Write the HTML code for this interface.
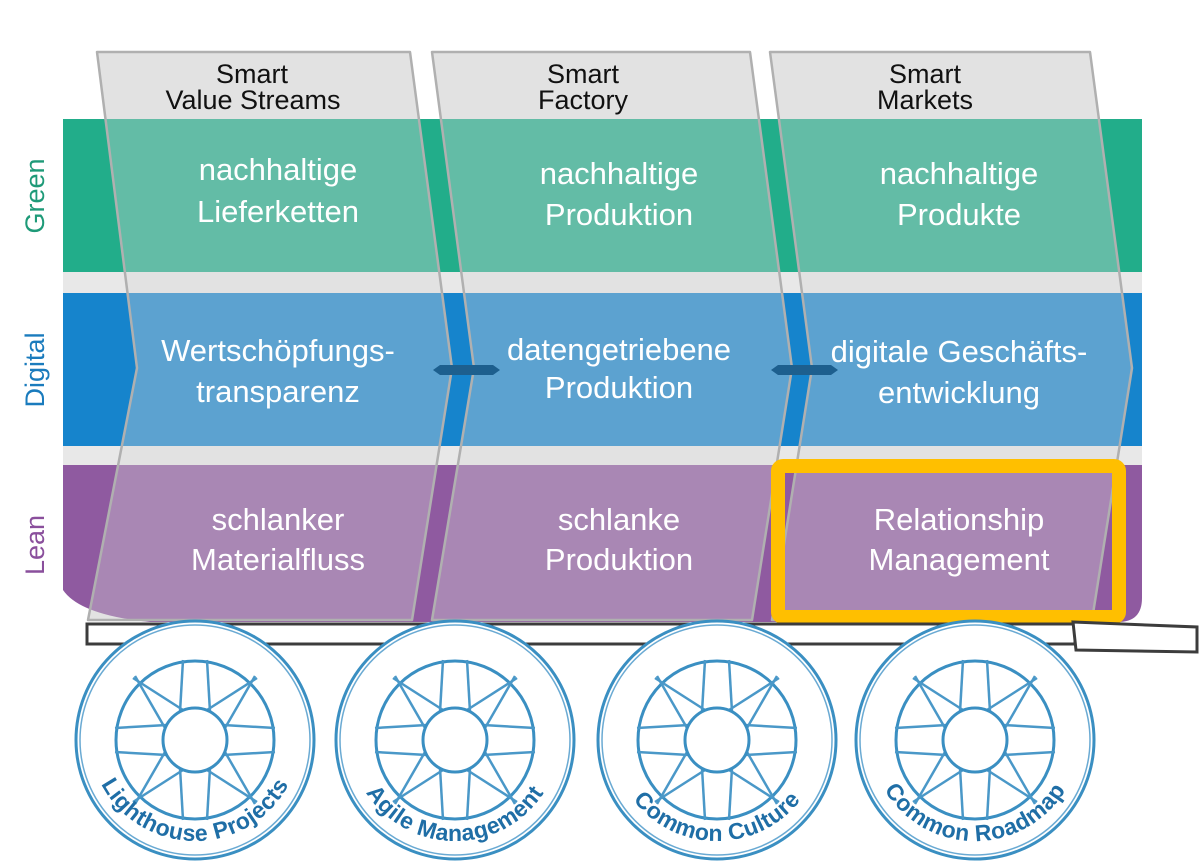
<!DOCTYPE html>
<html><head><meta charset="utf-8"><style>
html,body{margin:0;padding:0;background:#fff;}
svg{display:block;}
text{font-family:"Liberation Sans",sans-serif;}
</style></head><body>
<svg width="1200" height="862" viewBox="0 0 1200 862" xmlns="http://www.w3.org/2000/svg">
<defs>
<g id="wheel">
  <circle r="119" fill="#fff" stroke="#3a8fc2" stroke-width="3"/>
  <circle r="115" fill="none" stroke="#6aaad3" stroke-width="1.5"/>
  <circle r="79" fill="none" stroke="#3a8fc2" stroke-width="3"/>
  <g stroke="#4a98c8" stroke-width="2.5">
    <line x1="-15" y1="-28" x2="-12" y2="-80"/>
    <line x1="15" y1="-28" x2="12" y2="-80"/>
    <line x1="-15" y1="28" x2="-12" y2="80"/>
    <line x1="15" y1="28" x2="12" y2="80"/>
    <line x1="-28" y1="-15" x2="-80" y2="-12"/>
    <line x1="-28" y1="15" x2="-80" y2="12"/>
    <line x1="28" y1="-15" x2="80" y2="-12"/>
    <line x1="28" y1="15" x2="80" y2="12"/>
    <line x1="-12" y1="-30" x2="-62" y2="-62"/>
    <line x1="12" y1="-30" x2="62" y2="-62"/>
    <line x1="-12" y1="30" x2="-62" y2="62"/>
    <line x1="12" y1="30" x2="62" y2="62"/>
    <line x1="-30" y1="-12" x2="-60" y2="-64"/>
    <line x1="30" y1="-12" x2="60" y2="-64"/>
    <line x1="-30" y1="12" x2="-60" y2="64"/>
    <line x1="30" y1="12" x2="60" y2="64"/>
  </g>
  <circle r="32" fill="#fff" stroke="#3a8fc2" stroke-width="3"/>
</g>
<path id="arc" d="M -106 -5 A 106 106 0 0 0 106 -5" fill="none"/>
</defs>

<g fill="#e8e8e8">
  <path d="M97,52 L410,52 L452,368 L412,620 L88,620 L137,368 Z"/>
  <path d="M432,52 L750,52 L792,368 L752,620 L432,620 L474,368 Z"/>
  <path d="M770,52 L1090,52 L1132,368 L1092,620 L772,620 L812,368 Z"/>
</g>
<rect x="63" y="272" width="1079" height="21" fill="#e8e8e8"/>
<rect x="63" y="446" width="1079" height="19" fill="#e8e8e8"/>
<rect x="63" y="119" width="1079" height="153" fill="#22ad8a"/>
<rect x="63" y="293" width="1079" height="153" fill="#1684cc"/>
<path d="M63,465 L1142,465 L1142,598 Q1142,622 1118,622 L150,622 Q80,615 63,590 Z" fill="#8f5aa0"/>
<g fill="rgba(215,215,215,0.36)" stroke="#b0b0b0" stroke-width="2.5" stroke-linejoin="round">
  <path d="M97,52 L410,52 L452,368 L412,620 L88,620 L137,368 Z"/>
  <path d="M432,52 L750,52 L792,368 L752,620 L432,620 L474,368 Z"/>
  <path d="M770,52 L1090,52 L1132,368 L1092,620 L772,620 L812,368 Z"/>
</g>
<path d="M433,370 L440,365 L493,365 L500,370 L493,375 L440,375 Z" fill="#1d5f8e"/>
<path d="M771,370 L778,365 L831,365 L838,370 L831,375 L778,375 Z" fill="#1d5f8e"/>

<g font-size="27" fill="#111" text-anchor="middle">
  <text x="252" y="83">Smart</text><text x="253" y="109">Value Streams</text>
  <text x="583" y="83">Smart</text><text x="583" y="109">Factory</text>
  <text x="925" y="83">Smart</text><text x="925" y="109">Markets</text>
</g>
<g font-size="31" fill="#fff" text-anchor="middle">
  <text x="278" y="180">nachhaltige</text><text x="278" y="222">Lieferketten</text>
  <text x="619" y="184">nachhaltige</text><text x="619" y="225">Produktion</text>
  <text x="959" y="184">nachhaltige</text><text x="959" y="225">Produkte</text>
  <text x="278" y="361">Wertschöpfungs-</text><text x="278" y="402">transparenz</text>
  <text x="619" y="360">datengetriebene</text><text x="619" y="398">Produktion</text>
  <text x="959" y="362">digitale Geschäfts-</text><text x="959" y="403">entwicklung</text>
  <text x="278" y="530">schlanker</text><text x="278" y="570">Materialfluss</text>
  <text x="619" y="530">schlanke</text><text x="619" y="570">Produktion</text>
  <text x="959" y="530">Relationship</text><text x="959" y="570">Management</text>
</g>
<g font-size="27" text-anchor="middle">
  <text transform="translate(44,196) rotate(-90)" fill="#1e9a78">Green</text>
  <text transform="translate(44,370) rotate(-90)" fill="#1a7bbd">Digital</text>
  <text transform="translate(44,545) rotate(-90)" fill="#8a4f9c">Lean</text>
</g>
<rect x="778" y="466" width="341" height="151" rx="5" fill="none" stroke="#ffbf00" stroke-width="14"/>
<rect x="87" y="624" width="988" height="20" fill="#fff" stroke="#3c3c3c" stroke-width="3"/>
<path d="M1073,622 L1197,627 L1197,652 L1076,650 Z" fill="#fff" stroke="#3c3c3c" stroke-width="3"/>

<g font-size="23" font-weight="bold" fill="#1f6ea6" letter-spacing="0.5">
  <g transform="translate(195,740)"><use href="#wheel"/><text><textPath href="#arc" startOffset="50%" text-anchor="middle">Lighthouse Projects</textPath></text></g>
  <g transform="translate(455,740)"><use href="#wheel"/><text><textPath href="#arc" startOffset="50%" text-anchor="middle">Agile Management</textPath></text></g>
  <g transform="translate(717,740)"><use href="#wheel"/><text><textPath href="#arc" startOffset="50%" text-anchor="middle">Common Culture</textPath></text></g>
  <g transform="translate(975,740)"><use href="#wheel"/><text><textPath href="#arc" startOffset="50%" text-anchor="middle">Common Roadmap</textPath></text></g>
</g>
</svg>
</body></html>
